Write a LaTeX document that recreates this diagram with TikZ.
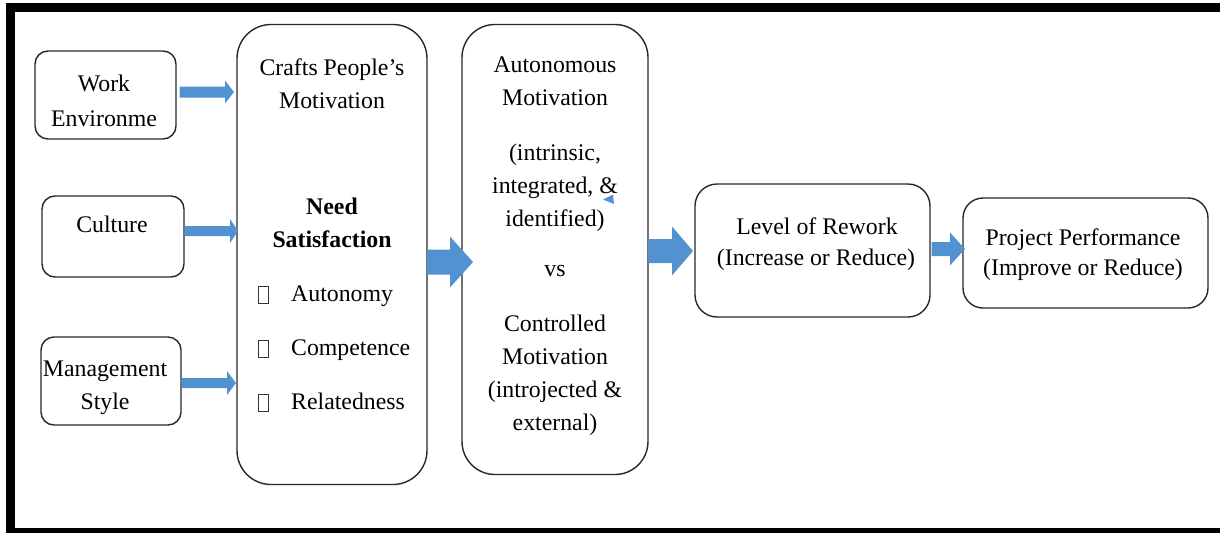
\documentclass[tikz,border=0pt]{standalone}
\usepackage{fontspec}
\setmainfont{Liberation Serif}
\usetikzlibrary{calc}
\definecolor{arrowblue}{RGB}{83,146,209}
\definecolor{boxline}{RGB}{40,40,40}
% block arrow from #1 to #2: shaft width #3, head width #4, head length #5
\newcommand\blockarr[5]{%
  \fill[arrowblue] let \p1=(#1), \p2=(#2) in
    (\x1,\y1+#3/2) -- (\x2-#5,\y1+#3/2) -- (\x2-#5,\y1+#4/2) -- (\x2,\y1)
    -- (\x2-#5,\y1-#4/2) -- (\x2-#5,\y1-#3/2) -- (\x1,\y1-#3/2) -- cycle;}
\begin{document}
\begin{tikzpicture}[x=1pt,y=-1pt,
  box/.style={draw=boxline,line width=1.4pt,fill=white,inner sep=0pt,outer sep=0pt},
  txt/.style={anchor=base,inner sep=0pt,font=\fontsize{23.8}{32}\selectfont},
  ltxt/.style={txt,anchor=base west},
  tofu/.style={draw=black!80,line width=0.9pt,minimum width=10pt,minimum height=17pt,inner sep=0pt}]
\useasboundingbox (0,0) rectangle (1220,533);
% outer frame (open on the right)
\fill[black] (6,3) rectangle (1220,12);
\fill[black] (6,3) rectangle (15,533);
\fill[black] (6,528) rectangle (1220,533);

% boxes
\node[box,rounded corners=13pt,minimum width=141pt,minimum height=88pt] (work) at (105.5,95) {};
\node[box,rounded corners=13pt,minimum width=142pt,minimum height=81pt] (culture) at (113,236.5) {};
\node[box,rounded corners=13pt,minimum width=140pt,minimum height=88pt] (mgmt) at (111,381) {};
\node[box,rounded corners=34pt,minimum width=190pt,minimum height=460pt] (crafts) at (332,254.5) {};
\node[box,rounded corners=33pt,minimum width=186pt,minimum height=450pt] (auto) at (555,249.5) {};
\node[box,rounded corners=22pt,minimum width=235pt,minimum height=133pt] (rework) at (812.5,250.5) {};
\node[box,rounded corners=20pt,minimum width=245pt,minimum height=110pt] (perf) at (1085.5,253) {};

% texts
\node[txt] (t-work1) at (104,91) {Work};
\node[txt] (t-work2) at (104,126) {Environme};
\node[txt] (t-cult) at (112,232) {Culture};
\node[txt] (t-mgmt1) at (105,376) {Management};
\node[txt] (t-mgmt2) at (105,409) {Style};

\node[txt] (t-cr1) at (332,75) {Crafts People’s};
\node[txt] (t-cr2) at (332,108) {Motivation};
\node[txt,font=\fontsize{23.8}{32}\selectfont\bfseries] (t-need1) at (332,214) {Need};
\node[txt,font=\fontsize{23.8}{32}\selectfont\bfseries] (t-need2) at (332,247) {Satisfaction};
\node[tofu] (b1) at (263,294.5) {};
\node[tofu] (b2) at (263,348.5) {};
\node[tofu] (b3) at (263,402.5) {};
\node[ltxt] (t-aut) at (291,301) {Autonomy};
\node[ltxt] (t-com) at (291,355) {Competence};
\node[ltxt] (t-rel) at (291,409) {Relatedness};

\node[txt] (t-a1) at (555,72) {Autonomous};
\node[txt] (t-a2) at (555,105) {Motivation};
\node[txt] (t-a3) at (555,160) {(intrinsic,};
\node[txt] (t-a4) at (555,193) {integrated, \&};
\node[txt] (t-a5) at (555,226) {identified)};
\node[txt] (t-a6) at (555,276) {vs};
\node[txt] (t-a7) at (555,331) {Controlled};
\node[txt] (t-a8) at (555,364) {Motivation};
\node[txt] (t-a9) at (555,397) {(introjected \&};
\node[txt] (t-a10) at (555,430) {external)};
% small stray marker beside the ampersand
\fill[arrowblue] (603,199.5) -- (613,194.5) -- (614,204) -- cycle;

\node[txt] (t-rw1) at (817,234) {Level of Rework};
\node[txt] (t-rw2) at (816,265) {(Increase or Reduce)};
\node[txt] (t-pp1) at (1083,245) {Project Performance};
\node[txt] (t-pp2) at (1083,275) {(Improve or Reduce)};

% connectors
\coordinate (a1s) at ([shift={(3.5,-3)}]work.east);
\coordinate (a1e) at ([xshift=-3pt]a1s -| crafts.west);
\blockarr{a1s}{a1e}{11}{23}{9}
\coordinate (a2s) at ([shift={(0.5,-5.5)}]culture.east);
\coordinate (a2e) at ([xshift=1pt]a2s -| crafts.west);
\blockarr{a2s}{a2e}{10}{24}{8}
\coordinate (a3s) at ([shift={(0.5,2)}]mgmt.east);
\coordinate (a3e) at ([xshift=-1pt]a3s -| crafts.west);
\blockarr{a3s}{a3e}{10}{24}{9}
\coordinate (a4s) at ([yshift=-7.5pt]crafts.east);
\coordinate (a4e) at ([xshift=11pt]a4s -| auto.west);
\blockarr{a4s}{a4e}{25}{51}{23}
\coordinate (a5s) at ([yshift=-1.5pt]auto.east);
\coordinate (a5e) at ([xshift=-2pt]a5s -| rework.west);
\blockarr{a5s}{a5e}{24}{49}{21}
\coordinate (a6s) at ([shift={(1.5,-1.5)}]rework.east);
\coordinate (a6e) at ([xshift=2pt]a6s -| perf.west);
\blockarr{a6s}{a6e}{14}{33}{15}
\end{tikzpicture}
\end{document}
